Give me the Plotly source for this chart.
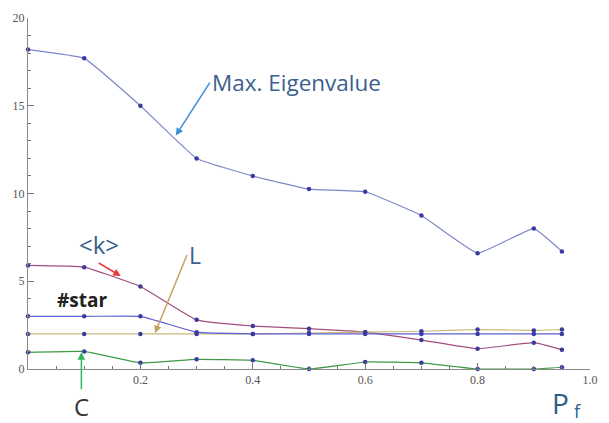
import plotly.graph_objects as go

pf = [0, 0.1, 0.2, 0.3, 0.4, 0.5, 0.6, 0.7, 0.8, 0.9, 0.95]
max_eig = [18.2, 17.7, 15.0, 12.0, 11.0, 10.25, 10.1, 8.75, 6.6, 8.0, 6.7]
k_mean = [5.9, 5.8, 4.7, 2.8, 2.45, 2.3, 2.1, 1.65, 1.15, 1.5, 1.1]
star = [3.0, 3.0, 3.0, 2.1, 2.0, 2.0, 2.0, 2.0, 2.0, 2.0, 2.0]
L_vals = [2.0, 2.0, 2.0, 2.0, 2.0, 2.05, 2.1, 2.15, 2.25, 2.2, 2.25]
C_vals = [0.95, 1.0, 0.35, 0.55, 0.5, 0.0, 0.4, 0.35, 0.0, 0.0, 0.1]

marker = dict(size=4.5, color="#3a3aa0")
fig = go.Figure()
series = [
    (max_eig, "#7d88c8"),
    (k_mean, "#a24d7e"),
    (L_vals, "#c9b878"),
    (star, "#5c5fcf"),
    (C_vals, "#3f9a45"),
]
for ys, col in series:
    fig.add_trace(go.Scatter(x=pf, y=ys, mode="lines+markers",
                             line=dict(color=col, width=1.2, shape="spline", smoothing=0.3),
                             marker=marker, cliponaxis=False, showlegend=False))

tickfont = dict(family="Liberation Serif", size=12, color="#555555")
fig.update_xaxes(range=[0, 1.0], showgrid=False, zeroline=False, showline=True,
                 linecolor="#888888", linewidth=1, ticks="inside", ticklen=6,
                 tickcolor="#777777", tickvals=[0.2, 0.4, 0.6, 0.8, 1.0],
                 ticktext=["0.2", "0.4", "0.6", "0.8", "1.0"], tickfont=tickfont,
                 minor=dict(dtick=0.05, tick0=0, ticks="inside", ticklen=3, tickcolor="#777777"))
fig.update_yaxes(range=[0, 20], showgrid=False, zeroline=False, showline=True,
                 linecolor="#888888", linewidth=1, ticks="inside", ticklen=6,
                 tickcolor="#777777", tickvals=[0, 5, 10, 15, 20], tickfont=tickfont,
                 minor=dict(dtick=1, tick0=0, ticks="inside", ticklen=3, tickcolor="#777777"))

lab = dict(family="Open Sans", size=16)
arr = dict(showarrow=True, arrowhead=2, arrowsize=1, arrowwidth=1.5)
ann = [
    dict(x=0.263, y=13.3, ax=34, ay=-53, xanchor="left", yanchor="middle",
         text="Max. Eigenvalue", font=dict(lab, size=22.5, color="#3b5f8f"),
         arrowcolor="#3d8fd6", **arr),
    dict(x=0.165, y=5.3, ax=-22, ay=-13, xanchor="center", yanchor="bottom",
         text="&lt;k&gt;", font=dict(lab, size=24, color="#3b5f8f"),
         arrowcolor="#e83a3a", **arr),
    dict(x=0.226, y=2.05, ax=32, ay=-78, xanchor="left", yanchor="middle",
         text="L", font=dict(lab, size=23, color="#3b5f8f"),
         arrowcolor="#c9a060", **arr),
    dict(x=0.095, y=0.95, ax=0, ay=37, xanchor="center", yanchor="top", borderpad=0,
         text="C", font=dict(lab, size=24, color="#333333"),
         arrowcolor="#2fb85a", **arr),
    dict(x=0.096, y=3.95, text="<b>#star</b>", showarrow=False, font=dict(lab, size=19, color="#222222")),
    dict(x=0.947, y=-0.096, yref="paper", xanchor="center", yanchor="middle", text="P",
         showarrow=False, borderpad=0, font=dict(lab, size=28, color="#2e5f8a")),
    dict(x=0.977, y=-0.12, yref="paper", xanchor="center", yanchor="middle", text="f",
         showarrow=False, borderpad=0, font=dict(lab, size=18, color="#2e5f8a")),
]
for a in ann:
    a.setdefault("xref", "x")
    a.setdefault("yref", "y")
fig.update_layout(annotations=ann, width=609, height=423,
                  margin=dict(l=28, r=11, t=15, b=54),
                  plot_bgcolor="white", paper_bgcolor="white")
fig.write_html("out.html")
